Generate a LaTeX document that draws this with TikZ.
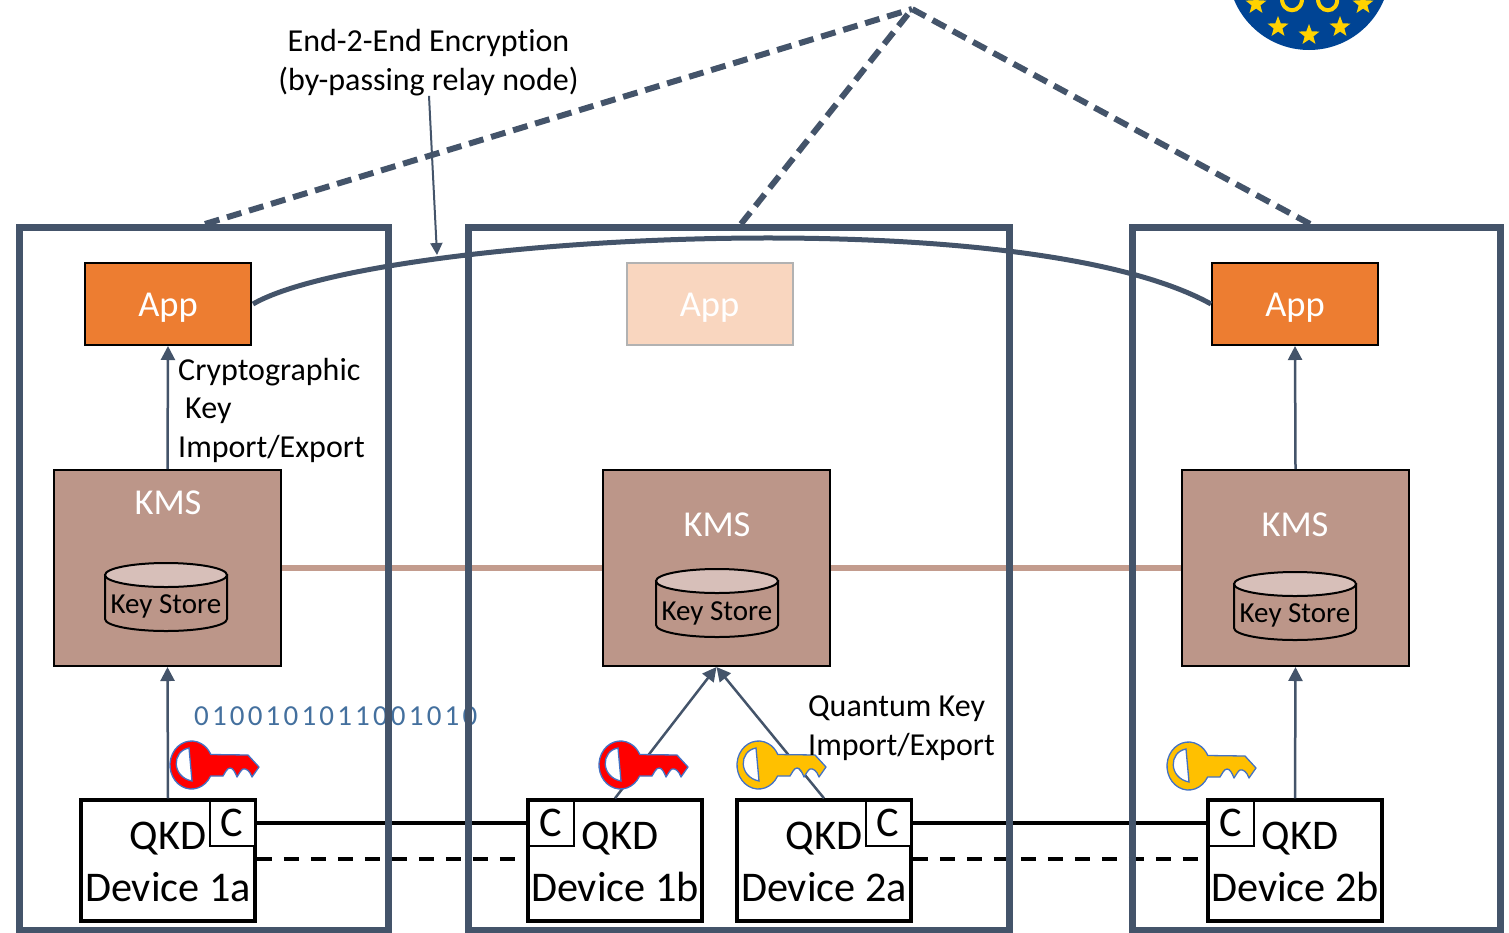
\documentclass[tikz,border=0pt]{standalone}
\usepackage{fontspec}
\setmainfont{Carlito}[Ligatures={NoCommon}]
\usetikzlibrary{arrows.meta,shapes.geometric}
\definecolor{slate}{HTML}{44546A}
\definecolor{orangeapp}{HTML}{ED7D31}
\definecolor{paleapp}{HTML}{F9D6BF}
\definecolor{kmsfill}{HTML}{BC9689}
\definecolor{kmsline}{HTML}{C39C8E}
\definecolor{storetop}{HTML}{D7BFB9}
\definecolor{keyblue}{HTML}{4472C4}
\definecolor{euyellow}{HTML}{FFD200}
\definecolor{keyyellow}{HTML}{FFC000}
\definecolor{eublue}{HTML}{004494}
\definecolor{bits}{HTML}{44709E}
\newcommand{\apptext}{\raisebox{-12pt}[0pt][0pt]{App}}
\tikzset{
  x=1pt,y=-1pt,
  framebox/.style={draw=slate,line width=7pt,fill=none,outer sep=0pt,inner sep=0pt,anchor=north west,minimum height=703pt},
  appbox/.style={draw=black,line width=2pt,fill=orangeapp,text=white,minimum width=166pt,minimum height=82pt,inner sep=0pt,font=\fontsize{36.5}{42}\selectfont},
  paleappbox/.style={appbox,draw=black!30,fill=paleapp},
  kmsbox/.style={draw=black,line width=2pt,fill=kmsfill,minimum width=227pt,minimum height=196pt,inner sep=0pt},
  kmslabel/.style={text=white,font=\fontsize{36.5}{42}\selectfont,inner sep=0pt},
  storetext/.style={inner sep=0pt,font=\fontsize{29}{33}\selectfont},
  qkd/.style={draw=black,line width=3.5pt,fill=white,minimum width=174pt,minimum height=121pt,inner sep=0pt},
  qkdtext/.style={font=\fontsize{42.3}{52}\selectfont,inner sep=0pt,align=center},
  cbox/.style={draw=black,line width=2pt,fill=white,minimum size=45pt,inner sep=0pt,font=\fontsize{42.3}{46}\selectfont},
  flow/.style={draw=slate,line width=2.5pt,-{Triangle[length=14pt,width=14pt]}},
  solidlink/.style={draw=black,line width=3.5pt},
  dashlink/.style={draw=black,line width=3.5pt,dash pattern=on 15pt off 12pt},
  kmslink/.style={draw=kmsline,line width=6pt},
  e2e/.style={draw=slate,line width=6pt,dash pattern=on 15pt off 8pt},
  lbl/.style={font=\fontsize{32}{38.5}\selectfont,inner sep=0pt,align=left},
  eustar/.style={star,star points=5,star point ratio=2.4,fill=euyellow,minimum size=22pt,inner sep=0pt},
  keystore/.pic={
    \path[fill=kmsfill,draw=black,line width=2pt] (-61,-22) -- (-61,22)
      arc[start angle=180,end angle=360,x radius=61pt,y radius=12pt] -- (61,-22) -- cycle;
    \path[fill=storetop,draw=black,line width=2pt] (0,-22) ellipse[x radius=61pt,y radius=12pt];
  },
  keyshape/.pic={
    \path[fill=#1,draw=keyblue,line width=1.3pt,line join=round]
      (19.3,-10.5) -- (56.5,-10) -- (67.5,2) -- (60.5,12)
      .. controls (58.5,6) and (54.5,3) .. (51.5,4)
      .. controls (49.5,5) and (47.5,9) .. (45.5,12)
      .. controls (43.5,7) and (41.5,3) .. (38.5,3)
      .. controls (35.5,3) and (33.5,8) .. (31.5,11)
      -- (19.1,11) arc[start angle=-27.3,end angle=-334.1,x radius=21.5pt,y radius=24pt] -- cycle;
    \path[fill=white,draw=keyblue,line width=1.3pt]
      (-2.5,-17) .. controls (-20,-14) and (-20,12) .. (0.5,16) -- cycle;
  }
}
\begin{document}
\begin{tikzpicture}
\useasboundingbox (0,0) rectangle (1509,932);

% EU logo
\begin{scope}
\clip (0,0) rectangle (1509,932);
\fill[eublue] (1309,-31) circle[radius=81pt];
\node[eustar] (s1) at (1256,4) {};
\node[eustar] (s2) at (1278,27) {};
\node[eustar] (s3) at (1309,35) {};
\node[eustar] (s4) at (1340,27) {};
\node[eustar] (s5) at (1363,4) {};
\draw[euyellow,line width=4pt] (1282,-4) .. controls (1280,15) and (1304,15) .. (1302,-4);
\draw[euyellow,line width=4pt] (1318,-4) .. controls (1316,15) and (1340,15) .. (1337,-4);
\end{scope}

\node[kmsbox] (kms1) at (167.5,568) {};
\node[kmsbox] (kms2) at (716.5,568) {};
\node[kmsbox] (kms3) at (1295.5,568) {};
\node[kmslabel] (kl1) at (168,503) {KMS};
\node[kmslabel] (kl2) at (717,525) {KMS};
\node[kmslabel] (kl3) at (1295,525) {KMS};
\pic at (166,597) {keystore};
\pic at (717,603) {keystore};
\pic at (1295,606) {keystore};
\node[storetext] (st1) at (166,606) {Key Store};
\node[storetext] (st2) at (717,613) {Key Store};
\node[storetext] (st3) at (1295,615) {Key Store};

\node[appbox] (app1) at (168,304) {\apptext};
\node[paleappbox] (app2) at (709.5,304) {\apptext};
\node[appbox] (app3) at (1295,304) {\apptext};

\node[qkd] (d1a) at (168,860.5) {};
\node[qkd] (d1b) at (615,860.5) {};
\node[qkd] (d2a) at (824,860.5) {};
\node[qkd] (d2b) at (1295,860.5) {};
\node[cbox] (c1a) at (232,823) {\raisebox{-2pt}{C}};
\node[cbox] (c1b) at (551,823) {\raisebox{-2pt}{C}};
\node[cbox] (c2a) at (888,823) {\raisebox{-2pt}{C}};
\node[cbox] (c2b) at (1231,823) {\raisebox{-2pt}{C}};
\node[qkdtext] (q1a) at (168,838.5) {QKD};
\node[qkdtext] (t1a) at (168,887) {Device 1a};
\node[qkdtext] (q1b) at (620,838.5) {QKD};
\node[qkdtext] (t1b) at (615,887) {Device 1b};
\node[qkdtext] (q2a) at (824,838.5) {QKD};
\node[qkdtext] (t2a) at (824,887) {Device 2a};
\node[qkdtext] (q2b) at (1300,838.5) {QKD};
\node[qkdtext] (t2b) at (1295,887) {Device 2b};

\path[kmslink] (kms1.east) -- (kms2.west);
\path[kmslink] (kms2.east) -- (kms3.west);
\path[solidlink] (c1a.east) -- (c1b.west);
\path[solidlink] (c2a.east) -- (c2b.west);
\path[dashlink] ([yshift=1.5pt]d1a.east) -- ([yshift=1.5pt]d1b.west);
\path[dashlink] ([yshift=1.5pt]d2a.east) -- ([yshift=1.5pt]d2b.west);

\path[flow] (kms1.north) -- (app1.south);
\path[flow] (kms3.north) -- (app3.south);
\path[flow] (d1a.north) -- (kms1.south);
\path[flow] (d2b.north) -- (kms3.south);
\path[flow] (d1b.north) -- (kms2.south);
\path[flow] (d2a.north) -- (kms2.south);

\node[font=\fontsize{29}{34}\selectfont,inner sep=0pt,text=bits,anchor=base west] (bits) at (194,725) {\addfontfeature{LetterSpace=11}0100101011001010};

\pic at (191.5,765) {keyshape=red};
\pic at (620.5,765) {keyshape=red};
\pic at (758.5,765) {keyshape=keyyellow};
\pic at (1188.5,766) {keyshape=keyyellow};

% frames
\node[framebox,minimum width=369pt] (f1) at (19.5,227.5) {};
\node[framebox,minimum width=541pt] (f2) at (468.5,227.5) {};
\node[framebox,minimum width=368pt] (f3) at (1132,227.5) {};

% end to end
\coordinate (apex) at (912,9);
\coordinate (f1top) at (205,224);
\coordinate (f2top) at (741,224);
\coordinate (f3top) at (1310,224);
\path[e2e] (f1top) -- (apex);
\path[e2e] (f2top) -- (apex);
\path[e2e] (f3top) -- (apex);
\draw[slate,line width=5pt] (app1.east) ++(1,0) .. controls (370,236) and (1020,198) .. (app3.west);

\node[lbl,align=center] (e2etext) at (428.5,62.5) {End-2-End Encryption\\(by-passing relay node)};
\coordinate (curvepoint) at (437,255);
\draw[slate,line width=2pt,-{Triangle[length=12pt,width=12pt]}] (e2etext.south -| 429,0) -- (curvepoint);

\node[lbl,anchor=north west] (ck) at (178,358) {Cryptographic\\\hspace*{7pt}Key\\Import/Export};
\node[lbl,anchor=north west] (qk) at (808,696) {Quantum Key\\Import/Export};
\end{tikzpicture}
\end{document}
